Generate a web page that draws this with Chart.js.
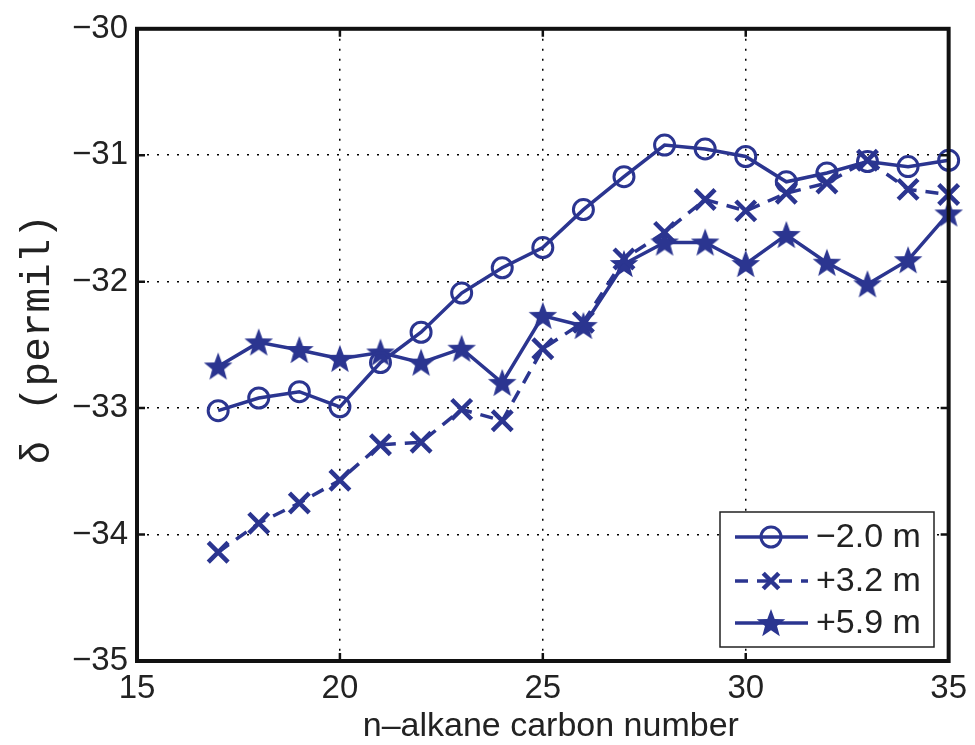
<!DOCTYPE html>
<html>
<head>
<meta charset="utf-8">
<script src="https://cdn.jsdelivr.net/npm/chart.js@4"></script>
<style>
  html, body { margin: 0; background: #fff; }
</style>
</head>
<body>
<canvas id="chart" width="975" height="745"></canvas>
<script>
// n-alkane carbon numbers
const carbonNumbers = [17, 18, 19, 20, 21, 22, 23, 24, 25, 26, 27, 28, 29, 30, 31, 32, 33, 34, 35];

// delta values (permil) per sampling depth
const deltaMinus20 = [-33.02, -32.92, -32.87, -32.99, -32.64, -32.40, -32.09, -31.89, -31.73, -31.43,
                      -31.17, -30.92, -30.95, -31.01, -31.21, -31.14, -31.05, -31.09, -31.04];
const deltaPlus32  = [-34.14, -33.91, -33.75, -33.57, -33.29, -33.27, -33.01, -33.10, -32.53, -32.32,
                      -31.82, -31.61, -31.35, -31.44, -31.30, -31.22, -31.04, -31.27, -31.31];
const deltaPlus59  = [-32.67, -32.48, -32.54, -32.61, -32.56, -32.64, -32.53, -32.80, -32.27, -32.35,
                      -31.86, -31.69, -31.69, -31.86, -31.63, -31.85, -32.02, -31.83, -31.46];

const seriesLabels = ['\u22122.0 m', '+3.2 m', '+5.9 m'];
const xTicks = [15, 20, 25, 30, 35];
const yTicks = [-35, -34, -33, -32, -31, -30];

const navy = '#2b3590';
const sansFont = '"Liberation Sans", Arial, sans-serif';
const monoFont = '"Liberation Mono", "Courier New", monospace';

// filled five point star marker
function makeStar(size, color) {
  const c = document.createElement('canvas');
  c.width = size; c.height = size;
  const g = c.getContext('2d');
  const cx = size / 2, cy = size / 2 + 1;
  const outer = size / 2 - 1, inner = outer * 0.42;
  g.beginPath();
  for (let i = 0; i < 10; i++) {
    const r = i % 2 === 0 ? outer : inner;
    const a = -Math.PI / 2 + i * Math.PI / 5;
    g.lineTo(cx + r * Math.cos(a), cy + r * Math.sin(a));
  }
  g.closePath();
  g.fillStyle = color;
  g.fill();
  return c;
}
const starMarker = makeStar(32, navy);

const toPoints = ys => carbonNumbers.map((x, i) => ({ x: x, y: ys[i] }));

const datasets = [
  {
    label: seriesLabels[0],
    data: toPoints(deltaMinus20),
    borderColor: navy,
    borderWidth: 3.5,
    pointStyle: 'circle',
    pointRadius: 10,
    pointBorderWidth: 3,
    pointBackgroundColor: 'rgba(255,255,255,0)',
    pointBorderColor: navy
  },
  {
    label: seriesLabels[1],
    data: toPoints(deltaPlus32),
    borderColor: navy,
    borderWidth: 3.5,
    borderDash: [13, 9],
    pointStyle: 'crossRot',
    pointRadius: 14,
    pointBorderWidth: 4.5,
    pointBorderColor: navy
  },
  {
    label: seriesLabels[2],
    data: toPoints(deltaPlus59),
    borderColor: navy,
    borderWidth: 3.5,
    pointStyle: starMarker,
    pointRadius: 15,
    pointBorderColor: navy
  }
];

// axes box, inner tick marks, axis titles and legend
const matlabAxes = {
  id: 'matlabAxes',
  afterDatasetsDraw(chart) {
    const ctx = chart.ctx;
    const a = chart.chartArea;
    const xs = chart.scales.x, ys = chart.scales.y;
    ctx.save();
    ctx.strokeStyle = '#111';
    ctx.lineWidth = 2.5;
    ctx.beginPath();
    xTicks.forEach(t => {
      const px = xs.getPixelForValue(t);
      ctx.moveTo(px, a.bottom); ctx.lineTo(px, a.bottom - 8);
      ctx.moveTo(px, a.top); ctx.lineTo(px, a.top + 8);
    });
    yTicks.forEach(t => {
      const py = ys.getPixelForValue(t);
      ctx.moveTo(a.left, py); ctx.lineTo(a.left + 8, py);
      ctx.moveTo(a.right, py); ctx.lineTo(a.right - 8, py);
    });
    ctx.stroke();
    ctx.lineWidth = 4;
    ctx.strokeRect(a.left, a.top, a.right - a.left, a.bottom - a.top);

    // x title
    ctx.fillStyle = '#222';
    ctx.font = '34px ' + sansFont;
    ctx.textAlign = 'center';
    ctx.textBaseline = 'alphabetic';
    ctx.fillText('n\u2013alkane carbon number', (a.left + a.right) / 2 + 8, 736);

    // y title: delta in sans, unit in mono
    ctx.save();
    ctx.translate(38, 342);
    ctx.rotate(-Math.PI / 2);
    ctx.textBaseline = 'middle';
    ctx.textAlign = 'left';
    ctx.font = '40px ' + sansFont;
    const p1 = '\u03b4';
    const w1 = ctx.measureText(p1).width;
    ctx.font = '41px ' + monoFont;
    const p2 = ' (permil)';
    const w2 = ctx.measureText(p2).width;
    const start = -(w1 + w2) / 2;
    ctx.font = '40px ' + sansFont;
    ctx.fillText(p1, start, 0);
    ctx.font = '41px ' + monoFont;
    ctx.fillText(p2, start + w1 + 6, 0);
    ctx.restore();

    // legend
    const box = { x: 720, y: 512, w: 214, h: 135 };
    ctx.fillStyle = '#fff';
    ctx.fillRect(box.x, box.y, box.w, box.h);
    ctx.strokeStyle = '#222';
    ctx.lineWidth = 1.5;
    ctx.strokeRect(box.x, box.y, box.w, box.h);
    const rows = [537, 581, 623];
    chart.data.datasets.forEach((ds, i) => {
      const y = rows[i];
      ctx.save();
      ctx.strokeStyle = ds.borderColor;
      ctx.lineWidth = ds.borderWidth;
      ctx.setLineDash(ds.borderDash || []);
      ctx.beginPath();
      ctx.moveTo(735, y); ctx.lineTo(808, y);
      ctx.stroke();
      ctx.setLineDash([]);
      ctx.strokeStyle = ds.pointBorderColor;
      ctx.fillStyle = ds.pointBackgroundColor || 'rgba(0,0,0,0)';
      ctx.lineWidth = ds.pointBorderWidth || 1;
      Chart.helpers.drawPoint(ctx, {
        pointStyle: ds.pointStyle,
        radius: ds.pointStyle === 'crossRot' ? 11 : ds.pointRadius,
        borderWidth: ds.pointBorderWidth || 1,
        rotation: 0
      }, 771, y);
      ctx.restore();
      ctx.fillStyle = '#222';
      ctx.font = '34px ' + sansFont;
      ctx.textAlign = 'left';
      ctx.textBaseline = 'middle';
      ctx.fillText(ds.label, 816, y + 1);
    });
    ctx.restore();
  }
};

new Chart(document.getElementById('chart').getContext('2d'), {
  type: 'line',
  data: { datasets: datasets },
  options: {
    responsive: false,
    animation: false,
    devicePixelRatio: 1,
    clip: false,
    layout: { padding: { left: 0, top: 22, right: 25, bottom: 0 } },
    plugins: { legend: { display: false }, tooltip: { enabled: false } },
    elements: { line: { tension: 0 } },
    scales: {
      x: {
        type: 'linear',
        min: 15, max: 35,
        afterFit: s => { s.height = 84; },
        afterBuildTicks: s => { s.ticks = xTicks.map(v => ({ value: v })); },
        grid: { color: '#000', lineWidth: 1.5, drawTicks: false },
        border: { display: false, dash: [2, 8] },
        ticks: { padding: 8, color: '#222', font: { family: sansFont, size: 33 } }
      },
      y: {
        type: 'linear',
        min: -35, max: -30,
        afterFit: s => { s.width = 137; },
        afterBuildTicks: s => { s.ticks = yTicks.map(v => ({ value: v })); },
        grid: { color: '#000', lineWidth: 1.5, drawTicks: false },
        border: { display: false, dash: [2, 8] },
        ticks: {
          padding: 9, color: '#222', font: { family: sansFont, size: 33 },
          callback: v => (v < 0 ? '\u2212' : '') + Math.abs(v)
        }
      }
    }
  },
  plugins: [matlabAxes]
});
</script>
</body>
</html>
